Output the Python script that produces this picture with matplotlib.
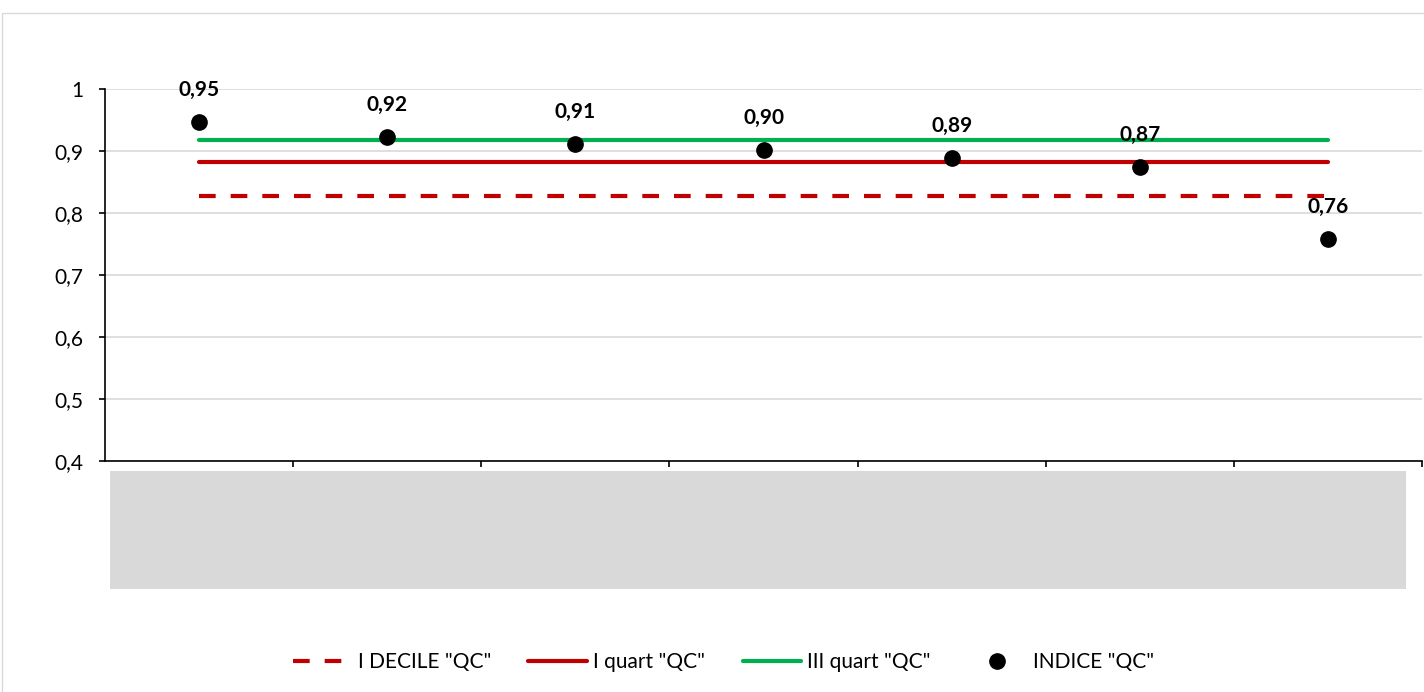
import numpy as np
import matplotlib.pyplot as plt
from matplotlib.patches import Rectangle

# values
categories = ['', '', '', '', '', '', '']
indice = [0.947, 0.922, 0.911, 0.901, 0.889, 0.874, 0.758]
labels = ['0,95', '0,92', '0,91', '0,90', '0,89', '0,87', '0,76']
decile_1 = [0.827] * 7
quart_1 = [0.882] * 7
quart_3 = [0.917] * 7
ytick_labels = ['0,4', '0,5', '0,6', '0,7', '0,8', '0,9', '1']

plt.rcParams['font.family'] = ['Lato', 'DejaVu Sans']

fig = plt.figure(figsize=(14.24, 6.92), dpi=100)
W, H = 1424, 692

# outer chart border
fig.patches.append(Rectangle((2 / W, -0.1), 1.2, 1 - 13 / H + 0.1, transform=fig.transFigure,
                             fill=False, edgecolor='#d9d9d9', lw=1))
# grey band under the axis (empty category labels)
fig.patches.append(Rectangle((110 / W, 1 - 589 / H), (1406 - 110) / W, (589 - 471) / H,
                             transform=fig.transFigure, facecolor='#d9d9d9', edgecolor='none'))

ax = fig.add_axes([105 / W, 1 - 461 / H, 1317 / W, (461 - 89) / H])
x = np.arange(1, len(indice) + 1)

ax.plot(x, decile_1, color='#C00000', lw=3, dashes=(4, 3.6), label='I DECILE "QC"')
ax.plot(x, quart_1, color='#C00000', lw=3, solid_capstyle='round', label='I quart "QC"')
ax.plot(x, quart_3, color='#00B050', lw=3, solid_capstyle='round', label='III quart "QC"')
ax.plot(x, indice, 'o', color='black', ms=11, lw=0, label='INDICE "QC"', zorder=5)

for xi, v, t in zip(x, indice, labels):
    ax.annotate(t, (xi, v), xytext=(0, 16), textcoords='offset points', ha='center',
                va='bottom', fontsize=15, fontweight='bold')

ax.set_xlim(0.5, 7.5)
ax.set_ylim(0.4, 1.0)
ax.set_yticks(np.arange(0.4, 1.01, 0.1))
ax.set_yticklabels(ytick_labels, fontsize=15)
ax.set_xticks(np.arange(1.5, 7.6, 1))
ax.set_xticklabels([])
ax.tick_params(axis='both', direction='out', length=4.5, width=1.2, color='black')
ax.tick_params(axis='y', pad=11)
ax.grid(axis='y', color='#d9d9d9', lw=1.2)
ax.set_axisbelow(True)
for s in ['top', 'right']:
    ax.spines[s].set_visible(False)
ax.spines['left'].set_linewidth(1.2)
ax.spines['bottom'].set_linewidth(1.2)

fig.legend(loc='center', bbox_to_anchor=(0.508, 1 - 662 / H), ncol=4, frameon=False,
           fontsize=15, handlelength=2.8, columnspacing=1.8, handletextpad=0.3)

fig.savefig('out.png', dpi=100)
